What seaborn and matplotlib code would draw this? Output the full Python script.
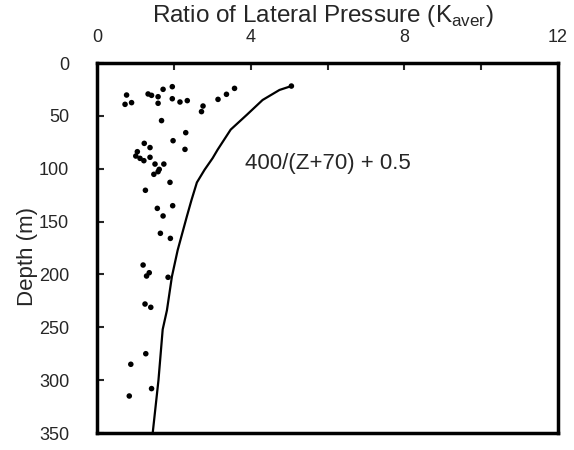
import matplotlib
matplotlib.use("Agg")
import matplotlib.pyplot as plt
import seaborn as sns
import pandas as pd
from matplotlib.ticker import MultipleLocator

# Measured data points (K_aver, depth in m)
k_points = [0.77, 0.73, 0.90, 1.33, 1.42, 1.59, 1.59, 1.72, 1.96, 1.96, 2.16, 2.35,
            2.76, 2.72, 3.15, 3.37, 3.58, 5.06, 1.68, 2.31, 1.98, 1.23, 1.38, 2.29,
            1.05, 1.01, 1.12, 1.22, 1.38, 1.51, 1.74, 1.62, 1.59, 1.48, 1.90, 1.26,
            1.97, 1.57, 1.72, 1.65, 1.91, 1.20, 1.36, 1.29, 1.85, 1.25, 1.40,
            1.27, 0.88, 1.42, 0.84]
z_points = [30.3, 39.1, 37.5, 29.3, 30.6, 31.9, 38.1, 24.9, 22.4, 33.8, 36.9, 35.6,
            40.7, 46.0, 34.4, 29.6, 24.0, 21.8, 54.5, 65.9, 73.5, 76.0, 80.0, 81.7,
            83.9, 88.0, 90.2, 92.4, 89.2, 95.6, 95.6, 100.6, 102.8, 105.3, 112.9, 120.4,
            135.0, 137.5, 144.7, 161.1, 165.9, 191.1, 198.4, 201.5, 202.7, 228.0, 231.1,
            275.0, 285.0, 308.0, 315.0]

# Curve: 400/(Z+70) + 0.5
k_curve = [5.06, 4.75, 4.31, 3.90, 3.48, 3.14, 3.01, 2.80, 2.60, 2.46, 2.34, 2.10, 1.95, 1.82, 1.71, 1.60, 1.45]
z_curve = [21.8, 25.5, 35.0, 49.0, 63.0, 82.0, 90.0, 101.0, 113.0, 129.6, 145.0, 177.0, 202.0, 234.0, 252.0, 300.0, 350.0]

x_ticks = [0, 4, 8, 12]
y_ticks = [0, 50, 100, 150, 200, 250, 300, 350]

sns.set_style("white")
plt.rcParams['font.family'] = ['Liberation Sans', 'DejaVu Sans']

fig = plt.figure(figsize=(5.74, 4.5), dpi=100)
ax = fig.add_axes([97/574, 1 - 433/450, (558-97)/574, (433-63)/450])

pts = pd.DataFrame({"K": k_points, "Z": z_points})
crv = pd.DataFrame({"K": k_curve, "Z": z_curve})

sns.lineplot(data=crv, x="K", y="Z", sort=False, color="black", linewidth=1.6, ax=ax)
sns.scatterplot(data=pts, x="K", y="Z", color="black", s=16, edgecolor="none", ax=ax)

ax.set_xlim(0, 12)
ax.set_ylim(350, 0)
ax.set_xticks(x_ticks)
ax.xaxis.set_minor_locator(MultipleLocator(2))
ax.set_yticks(y_ticks)
ax.xaxis.tick_top()
ax.tick_params(axis='x', which='both', direction='in', length=5, width=1.5,
               top=True, bottom=False, labeltop=True, labelbottom=False,
               labelsize=13, pad=12)
ax.tick_params(axis='y', which='both', direction='in', length=5, width=1.5,
               left=True, right=False, labelsize=13, pad=20)
ax.set_xlabel("")
ax.set_ylabel("")
for s in ax.spines.values():
    s.set_linewidth(2.5)
    s.set_color("black")

ax.text(3.85, 95, "400/(Z+70) + 0.5", fontsize=16, va="center", ha="left")

fig.text(323/574, 1 - 22/450, r"Ratio of Lateral Pressure (K$_{\mathregular{aver}}$)",
         fontsize=17.5, ha="center", va="baseline")
fig.text(27/574, 1 - 256/450, "Depth (m)", fontsize=16, rotation=90,
         ha="center", va="center")

fig.savefig("out.png", dpi=100, facecolor="white")
